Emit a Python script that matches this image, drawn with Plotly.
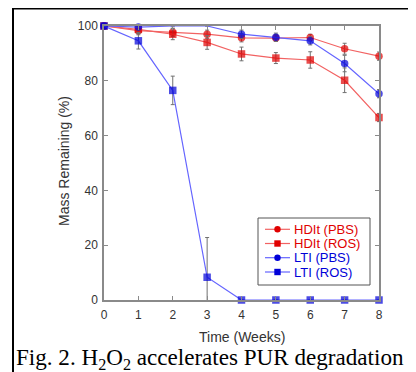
import plotly.graph_objects as go

weeks = [0, 1, 2, 3, 4, 5, 6, 7, 8]
hdit_pbs = [100, 98.3, 97.7, 97.0, 95.7, 95.6, 95.8, 91.7, 89.0]
hdit_pbs_err = [0, 1.5, 1.5, 1.5, 1.5, 1.2, 1.2, 2.0, 1.5]
hdit_ros = [100, 98.8, 97.0, 94.0, 89.8, 88.3, 87.6, 80.2, 66.6]
hdit_ros_err = [0, 1.5, 2.0, 2.5, 2.5, 2.0, 3.0, 4.5, 1.5]
lti_pbs = [100, 99.6, 100, 100, 97.0, 95.9, 94.6, 86.3, 75.3]
lti_pbs_err = [0, 1.0, 0, 0, 1.5, 1.5, 1.5, 3.0, 1.5]
lti_ros = [100, 94.6, 76.5, 8.3, 0, 0, 0, 0, 0]
lti_ros_err = [0, 3.0, 5.2, 14.5, 0, 0, 0, 0, 0]

x_ticks = [0, 1, 2, 3, 4, 5, 6, 7, 8]
y_ticks = [0, 20, 40, 60, 80, 100]
series_names = ["HDIt (PBS)", "HDIt (ROS)", "LTI (PBS)", "LTI (ROS)"]
caption = "Fig. 2. H<sub>2</sub>O<sub>2</sub> accelerates PUR degradation"

RED_M = "#e00000"
RED_L = "#f26262"
BLUE_M = "#0000d8"
BLUE_L = "#6464ff"
ERR = "#707070"
AX = "#8a8a8a"
TXT = "#333333"

# page offset: body margin of 8px, so the figure is 408x364 placed at (8,8)
FIG_W, FIG_H = 408, 364
OFF = 8
PL, PR, PT, PB = 104, 379, 26, 300  # plot area in reference pixels


def px(X):
    return (X - PL) / (PR - PL)


def py(Y):
    return (PB - Y) / (PB - PT)


styles = [
    ("circle", RED_M, RED_L),
    ("square", RED_M, RED_L),
    ("circle", BLUE_M, BLUE_L),
    ("square", BLUE_M, BLUE_L),
]
values = [hdit_pbs, hdit_ros, lti_pbs, lti_ros]
errors = [hdit_pbs_err, hdit_ros_err, lti_pbs_err, lti_ros_err]

fig = go.Figure()
for name, ys, errs, (sym, mc, lc) in zip(series_names, values, errors, styles):
    sizes = [7.5] * len(ys)
    if name == "LTI (PBS)":
        sizes[2] = 0
        sizes[3] = 0
    fig.add_trace(go.Scatter(
        x=weeks, y=ys, name=name, mode="lines+markers",
        line=dict(color=lc, width=1.2),
        marker=dict(symbol=sym, size=sizes, color=mc, line=dict(width=0)),
        error_y=dict(type="data", array=errs, visible=True, color=ERR,
                     thickness=1, width=2),
        cliponaxis=False, showlegend=False,
    ))

fig.update_xaxes(
    range=[0, 8], tickvals=x_ticks, ticks="inside", ticklen=4, tickwidth=1,
    tickcolor=AX, showline=True, linecolor=AX, linewidth=1.5, mirror="ticks",
    showgrid=False, zeroline=False, ticklabelstandoff=3,
    tickfont=dict(family="Liberation Sans, Arial", size=12, color=TXT),
)
fig.update_yaxes(
    range=[0, 100], tickvals=y_ticks, ticks="inside", ticklen=4, tickwidth=1,
    tickcolor=AX, showline=True, linecolor=AX, linewidth=1.5, mirror="ticks",
    showgrid=False, zeroline=False, ticklabelstandoff=2,
    tickfont=dict(family="Liberation Sans, Arial", size=12, color=TXT),
)

fig.update_layout(
    width=FIG_W, height=FIG_H,
    margin=dict(l=PL - OFF, r=FIG_W - (PR - OFF), t=PT - OFF, b=FIG_H - (PB - OFF)),
    paper_bgcolor="white", plot_bgcolor="white",
    showlegend=False,
)

# axis titles
fig.add_annotation(xref="paper", yref="paper", x=px(242), y=py(337),
                   xanchor="center", yanchor="middle", showarrow=False,
                   text="Time (Weeks)",
                   font=dict(family="Liberation Sans, Arial", size=14, color=TXT))
fig.add_annotation(xref="paper", yref="paper", x=px(64), y=py(161),
                   xanchor="center", yanchor="middle", showarrow=False,
                   textangle=-90, text="Mass Remaining (%)",
                   font=dict(family="Liberation Sans, Arial", size=14, color=TXT))

# manual legend (box, line samples, markers, labels)
fig.add_shape(type="rect", xref="paper", yref="paper",
              x0=px(258), x1=px(370), y0=py(218), y1=py(285),
              line=dict(color="#555555", width=1), fillcolor="white", layer="above")
row_y = [229.3, 243.5, 257.7, 272]
for name, (sym, mc, lc), ry in zip(series_names, styles, row_y):
    fig.add_shape(type="line", xref="paper", yref="paper",
                  x0=px(265), x1=px(290), y0=py(ry), y1=py(ry),
                  line=dict(color=lc, width=1.2), layer="above")
    h = 3.2
    fig.add_shape(type="circle" if sym == "circle" else "rect",
                  xref="paper", yref="paper",
                  x0=px(277.5 - h), x1=px(277.5 + h), y0=py(ry - h), y1=py(ry + h),
                  line=dict(width=0), fillcolor=mc, layer="above")
    fig.add_annotation(xref="paper", yref="paper", x=px(292), y=py(ry),
                       xanchor="left", yanchor="middle", showarrow=False,
                       text=name,
                       font=dict(family="Liberation Sans, Arial", size=13, color=mc))

# outer frame of the figure panel
fig.add_shape(type="line", xref="paper", yref="paper",
              x0=px(12), x1=px(420), y0=py(8.5), y1=py(8.5),
              line=dict(color="black", width=2))
fig.add_shape(type="line", xref="paper", yref="paper",
              x0=px(13), x1=px(13), y0=py(7.5), y1=py(380),
              line=dict(color="black", width=2))

fig.add_annotation(
    xref="paper", yref="paper", x=px(14), y=py(358), xanchor="left", yanchor="middle",
    text=caption, showarrow=False,
    font=dict(family="Liberation Serif, Times New Roman", size=23.1, color="black"),
)

fig.write_html("out.html")
